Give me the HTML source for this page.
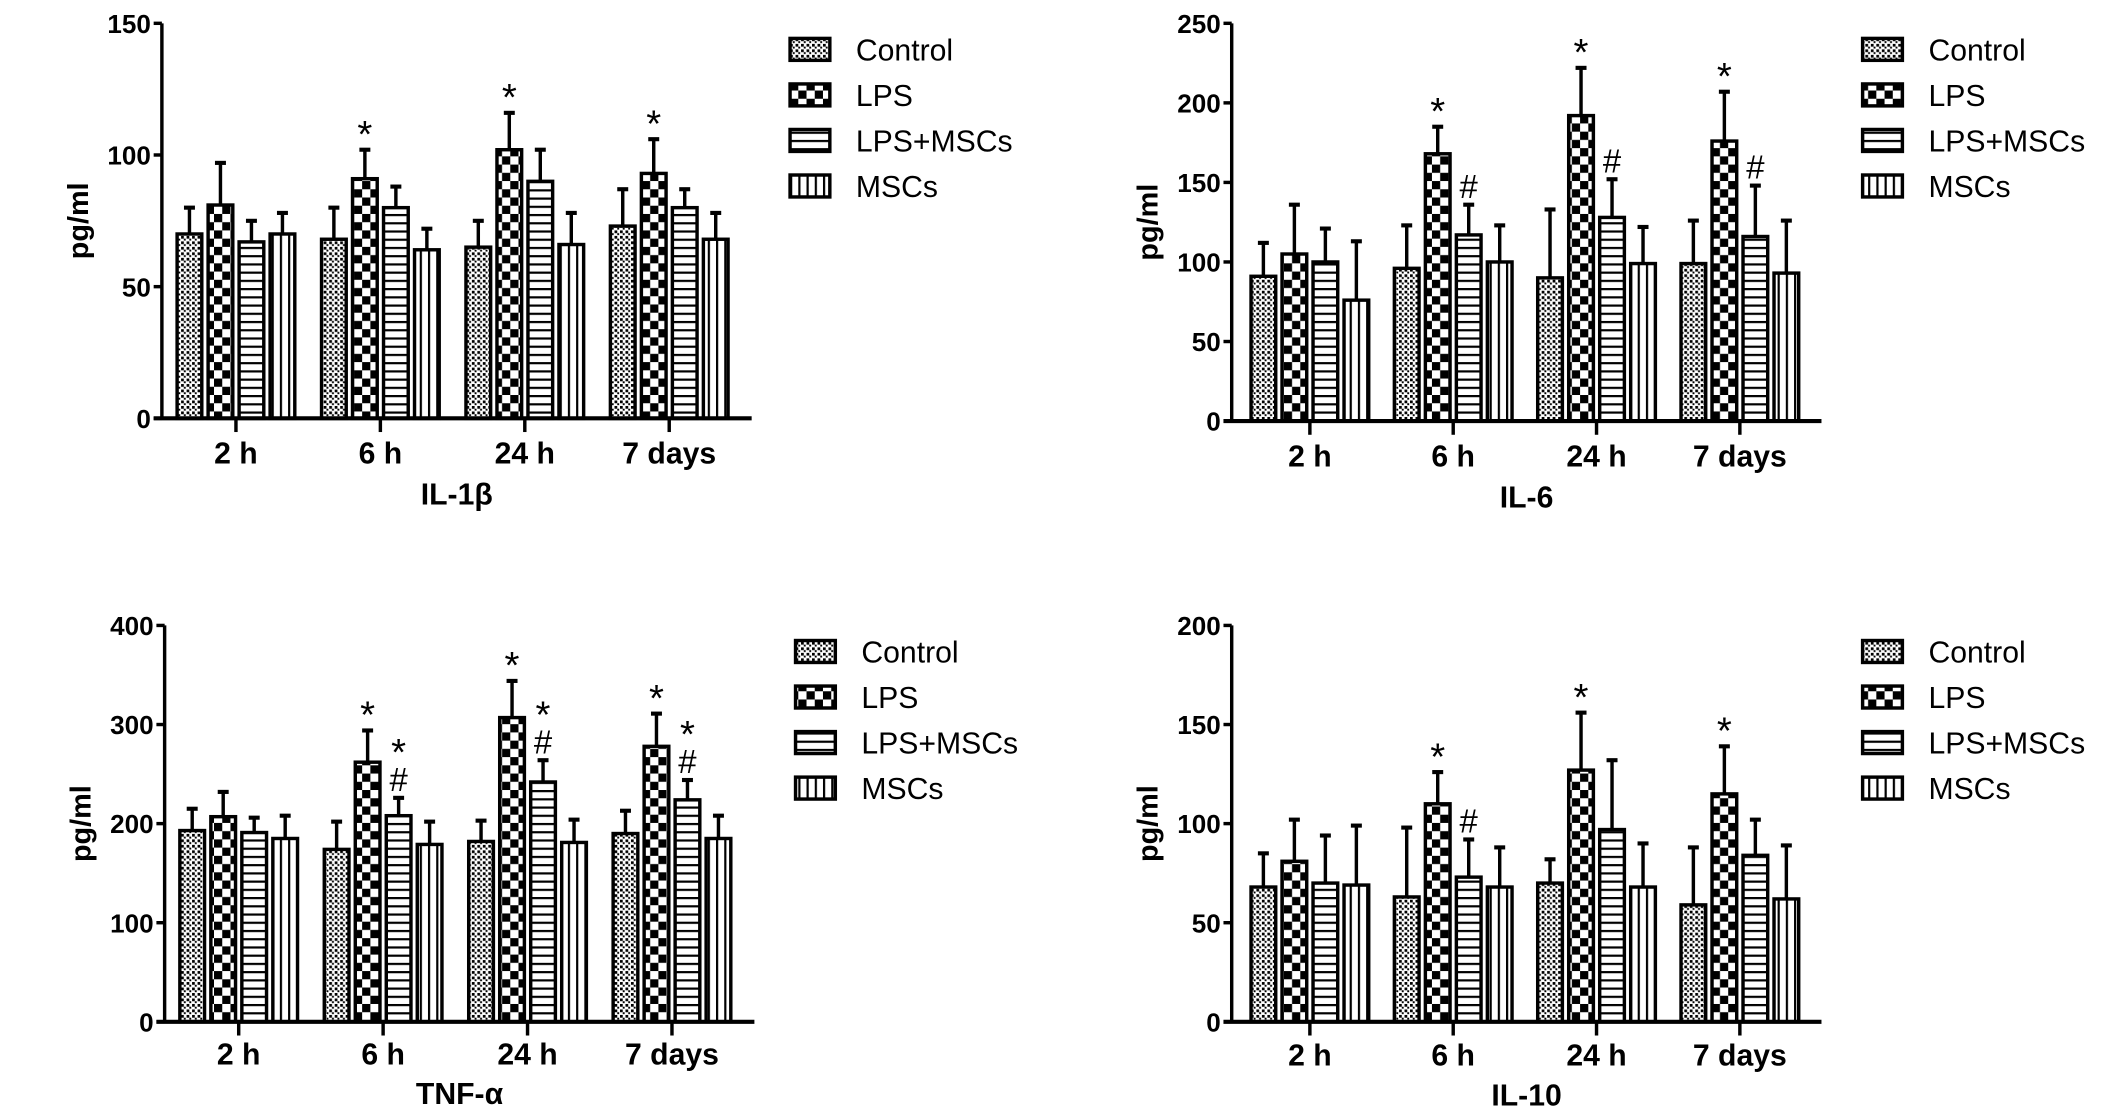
<!DOCTYPE html>
<html><head><meta charset="utf-8"><style>
html,body{margin:0;padding:0;background:#fff}
svg{display:block}
text{font-family:"Liberation Sans",Arial,sans-serif;fill:#000}
</style></head><body>
<svg id="fig" width="2126" height="1110" viewBox="0 0 1550 809.3" xmlns="http://www.w3.org/2000/svg">
<defs>
<pattern id="pCtrl" width="4" height="4" patternUnits="userSpaceOnUse"><rect width="4" height="4" fill="#fff"/><rect width="2" height="2" fill="#000"/><rect x="2" y="2" width="1.4" height="1.4" fill="#000"/></pattern>
<pattern id="pLps" width="12" height="12" patternUnits="userSpaceOnUse"><rect width="12" height="12" fill="#fff"/><rect width="6" height="6" fill="#000"/><rect x="6" y="6" width="6" height="6" fill="#000"/></pattern>
<pattern id="pLm" width="6" height="6" patternUnits="userSpaceOnUse"><rect width="6" height="6" fill="#fff"/><rect y="0" width="6" height="1.6" fill="#000"/></pattern>
<pattern id="pMsc" width="6" height="6" patternUnits="userSpaceOnUse"><rect width="6" height="6" fill="#fff"/><rect x="0" width="1.6" height="6" fill="#000"/></pattern>
</defs>
</svg>
<script>
const categories = ["2 h","6 h","24 h","7 days"];
const seriesNames = ["Control","LPS","LPS+MSCs","MSCs"];
// IL-1β
const il1bMean = [[70,68,65,73],[81,91,102,93],[67,80,90,80],[70,64,66,68]];
const il1bErr  = [[10,12,10,14],[16,11,14,13],[8,8,12,7],[8,8,12,10]];
const il1bTicks = [0,50,100,150];
const il1bMarks = [[1,1,"*"],[2,1,"*"],[3,1,"*"]];
// IL-6
const il6Mean = [[91,96,90,99],[105,168,192,176],[100,117,128,116],[76,100,99,93]];
const il6Err  = [[21,27,43,27],[31,17,30,31],[21,19,24,32],[37,23,23,33]];
const il6Ticks = [0,50,100,150,200,250];
const il6Marks = [[1,1,"*"],[2,1,"*"],[3,1,"*"],[1,2,"#"],[2,2,"#"],[3,2,"#"]];
// TNF-α
const tnfMean = [[193,174,182,190],[207,262,307,278],[191,208,242,224],[185,179,181,185]];
const tnfErr  = [[22,28,21,23],[25,32,37,33],[15,18,22,20],[23,23,23,23]];
const tnfTicks = [0,100,200,300,400];
const tnfMarks = [[1,1,"*"],[2,1,"*"],[3,1,"*"],[1,2,"#"],[1,2,"*"],[2,2,"#"],[2,2,"*"],[3,2,"#"],[3,2,"*"]];
// IL-10
const il10Mean = [[68,63,70,59],[81,110,127,115],[70,73,97,84],[69,68,68,62]];
const il10Err  = [[17,35,12,29],[21,16,29,24],[24,19,35,18],[30,20,22,27]];
const il10Ticks = [0,50,100,150,200];
const il10Marks = [[1,1,"*"],[2,1,"*"],[3,1,"*"],[1,2,"#"]];

const panels = [
 {key:"il-1b",title:"IL-1β",mean:il1bMean,err:il1bErr,ticks:il1bTicks,marks:il1bMarks,ax:118,top:17,zero:305,right:548,cx0:172,gap:105.3,legX:576,legY:36,labY:330,titY:360},
 {key:"il-6",title:"IL-6",mean:il6Mean,err:il6Err,ticks:il6Ticks,marks:il6Marks,ax:898,top:17,zero:307,right:1328,cx0:955,gap:104.5,legX:1358,legY:36,labY:332,titY:362},
 {key:"tnf-a",title:"TNF-α",mean:tnfMean,err:tnfErr,ticks:tnfTicks,marks:tnfMarks,ax:120,top:456,zero:745,right:550,cx0:174,gap:105.3,legX:580,legY:475,labY:768,titY:797},
 {key:"il-10",title:"IL-10",mean:il10Mean,err:il10Err,ticks:il10Ticks,marks:il10Marks,ax:898,top:456,zero:745,right:1328,cx0:955,gap:104.5,legX:1358,legY:475,labY:769,titY:798}
];
const fills = ["url(#pCtrl)","url(#pLps)","url(#pLm)","url(#pMsc)"];
const NS = "http://www.w3.org/2000/svg";
const svg = document.getElementById("fig");
function mk(tag, attrs, parent){const e=document.createElementNS(NS,tag);for(const k in attrs)e.setAttribute(k,attrs[k]);(parent||svg).appendChild(e);return e;}

panels.forEach(p=>{
  const g = mk("g",{});
  
  
  const ymax = p.ticks[p.ticks.length-1];
  const yS = v => p.zero - v/ymax*(p.zero-p.top);
  const xS = (ci,si) => p.cx0 + ci*p.gap + (si-1.5)*22.6;
  const ya = mk("line",{x1:p.ax,y1:p.top,x2:p.ax,y2:p.zero,stroke:"#000","stroke-width":2.5},g);
  
  
  p.ticks.forEach(t=>{
    mk("line",{x1:p.ax-6,y1:yS(t),x2:p.ax,y2:yS(t),stroke:"#000","stroke-width":2.5},g);
    const tl = mk("text",{x:p.ax-8,y:yS(t)+7,"text-anchor":"end","font-size":19,"font-weight":"bold"},g);
    tl.textContent = t;
    
    
  });
  p.mean.forEach((arr,si)=>{
    arr.forEach((v,ci)=>{
      const x = xS(ci,si), w=18, yt=yS(v), ye=yS(v+p.err[si][ci]);
      mk("line",{x1:x,y1:yt,x2:x,y2:ye,stroke:"#000","stroke-width":2.5},g);
      mk("line",{x1:x-4,y1:ye,x2:x+4,y2:ye,stroke:"#000","stroke-width":3},g);
      const r = mk("rect",{x:x-w/2,y:yt,width:w,height:p.zero-yt,fill:fills[si],stroke:"#000","stroke-width":2.5},g);
      
      
    });
  });
  const xa = mk("line",{x1:p.ax-6,y1:p.zero,x2:p.right,y2:p.zero,stroke:"#000","stroke-width":3},g);
  
  
  categories.forEach((c,ci)=>{
    const cx = p.cx0+ci*p.gap;
    mk("line",{x1:cx,y1:p.zero,x2:cx,y2:p.zero+10,stroke:"#000","stroke-width":2.5},g);
    const t = mk("text",{x:cx,y:p.labY+8,"text-anchor":"middle","font-size":22,"font-weight":"bold"},g);
    t.textContent = c;
    
    
  });
  const stackCount = {};
  p.marks.forEach(m=>{
    const [ci,si,sym] = m;
    const k = ci+'_'+si;
    const n = stackCount[k]||0; stackCount[k]=n+1;
    const ye = yS(p.mean[si][ci]+p.err[si][ci]);
    const yy = sym==="#" ? ye-5 - n*20 : ye - 2 - n*22;
    const t = mk("text",{x:xS(ci,si),y:yy,"text-anchor":"middle","font-size":sym==="#"?24:28},g);
    t.textContent = sym;
    
    
  });
  const xt = mk("text",{x:(p.ax+p.right)/2,y:p.titY+8,"text-anchor":"middle","font-size":22,"font-weight":"bold"},g);
  xt.textContent = p.title;
  
  
  const ymid = (p.top+p.zero)/2;
  const yt = mk("text",{x:p.ax-54,y:ymid,"text-anchor":"middle","font-size":21,"font-weight":"bold",transform:`rotate(-90 ${p.ax-54} ${ymid})`},g);
  yt.textContent = "pg/ml";
  
  
  seriesNames.forEach((s,si)=>{
    const ly = p.legY + si*33.2;
    const le = mk("g",{},g);
    
    
    mk("rect",{x:p.legX,y:ly-8,width:29,height:16,fill:fills[si],stroke:"#000","stroke-width":2.5},le);
    const t = mk("text",{x:p.legX+48,y:ly+8,"font-size":22},le);
    t.textContent = s;
  });
});
</script>
</body></html>
